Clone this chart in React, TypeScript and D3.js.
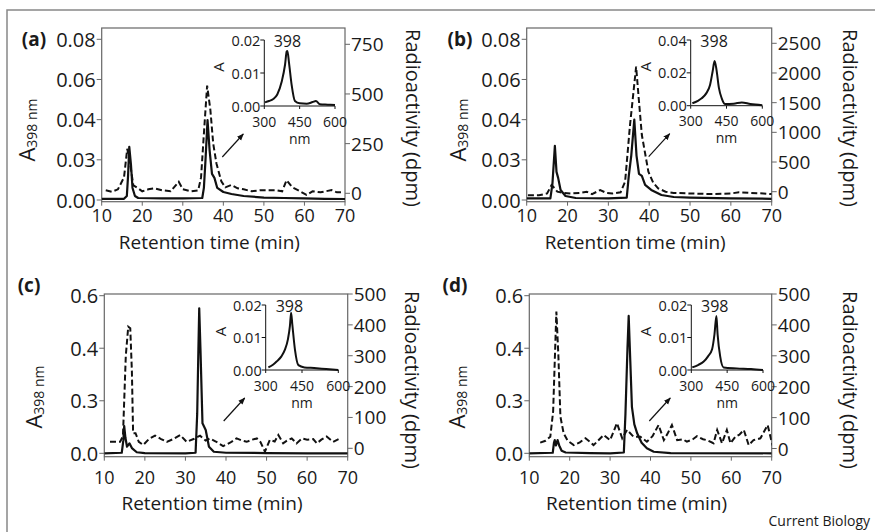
import React from 'react';
import * as d3 from 'd3';

type Pt = [number, number];

// retention time (min) vs A398 (solid) and radioactivity in dpm (dashed)
const aSolid: Pt[] = [
  [10, 0.0006], [15.5, 0.0006], [16.2, 0.002], [16.5, 0.012], [16.8, 0.0265], [17.2, 0.018], [17.6, 0.006],
  [18.2, 0.002], [19, 0.001], [25, 0.0008], [30, 0.0008], [34.8, 0.001], [35.2, 0.006], [35.6, 0.02],
  [36.1, 0.0398], [36.6, 0.025], [37.2, 0.013], [37.8, 0.011], [38.5, 0.006], [40, 0.004], [42, 0.003],
  [45, 0.002], [50, 0.0012], [55, 0.001], [60, 0.0008], [65, 0.0006], [70, 0.0005],
];
const aDashed: Pt[] = [
  [11, 15], [12.5, 8], [14, 20], [15.5, 80], [16.3, 224], [17, 150], [17.8, 40], [19, 25], [20, 10],
  [21.5, 20], [23, 25], [25, 15], [27, 10], [29, 58], [30, 20], [32, 10], [33.8, 15], [34.5, 80],
  [35.2, 300], [36, 542], [36.8, 420], [37.5, 250], [38.3, 150], [39.5, 60], [40.5, 30], [42, 42],
  [43.5, 25], [45, 20], [47, 10], [49, 15], [51, 15], [53, 15], [54.5, 10], [55.6, 66], [57, 30],
  [58.5, 15], [60.5, -8], [62, 10], [64, 5], [66.7, 16], [68, 5], [69.5, 5],
];
const bSolid: Pt[] = [
  [10, 0.0008], [15.8, 0.0008], [16.3, 0.008], [16.9, 0.027], [17.3, 0.014], [17.7, 0.011], [18.3, 0.005],
  [19.5, 0.002], [22, 0.001], [30, 0.0008], [34.5, 0.0012], [35, 0.012], [35.6, 0.022], [36.35, 0.04],
  [36.9, 0.022], [37.5, 0.013], [38.2, 0.012], [39, 0.0075], [40.5, 0.005], [43, 0.0025], [46, 0.0015],
  [50, 0.0012], [60, 0.0008], [70, 0.0006],
];
const bDashed: Pt[] = [
  [10.3, -60], [13, -60], [15, -30], [16.1, 113], [16.8, 60], [17.5, 0], [19, -20], [21, -30], [23, -20],
  [24.7, 0], [26, -40], [28, 28], [29.5, -20], [31, -30], [33, -10], [34.1, 168], [35.3, 1124],
  [36.8, 2106], [37.4, 1600], [38.2, 955], [39.8, 337], [41, 150], [42.2, 57], [44, 0], [46, -20],
  [50, -30], [55, -40], [60, -30], [62, -10], [65, -20], [68, -30], [70, -40],
];
const cSolid: Pt[] = [
  [10, 0], [14.3, 0.002], [14.7, 0.05], [14.9, 0.104], [15.2, 0.06], [15.6, 0.025], [16.2, 0.038],
  [16.8, 0.02], [18, 0.004], [20, 0.001], [30, 0], [32.5, 0.002], [32.9, 0.15], [33.2, 0.4], [33.4, 0.552],
  [33.7, 0.4], [34.2, 0.114], [35, 0.089], [35.8, 0.025], [37, 0.006], [40, 0.002], [50, 0.001], [60, 0], [70, 0],
];
const cDashed: Pt[] = [
  [11.4, 21], [13.9, 21], [14.6, 40], [15.3, 300], [15.9, 394], [16.4, 389], [16.8, 250], [17.1, 49],
  [17.7, 49], [18.5, 21], [19.6, 11], [21, 30], [22.5, 41], [24, 30], [25.4, 21], [27, 30], [28.7, 43],
  [30.3, 21], [32, 30], [33.6, 41], [35, 25], [36, 32], [37.5, 22], [39.3, 7], [41, 18], [42.6, 32],
  [44, 25], [45.1, 21], [46.5, 28], [47.6, 32], [48.5, 20], [49.6, -11], [50.8, 27], [52, 22], [52.9, 43],
  [54.1, 16], [55, 25], [56.2, 32], [57.4, 16], [58.7, 32], [60, 28], [61.5, 30], [62.4, 16], [63.5, 28],
  [64.8, 38], [66.4, 21], [68.1, 32],
];
const dSolid: Pt[] = [
  [10, 0], [15.8, 0.002], [16.1, 0.04], [16.3, 0.05], [16.6, 0.03], [17, 0.05], [17.4, 0.03], [18, 0.01],
  [19, 0.003], [25, 0.001], [30, 0], [33.4, 0.003], [33.8, 0.15], [34.3, 0.4], [34.6, 0.523], [35, 0.35],
  [35.4, 0.177], [36, 0.11], [36.7, 0.076], [37.8, 0.04], [39.1, 0.019], [40.8, 0.006], [45, 0.001], [70, 0],
];
const dDashed: Pt[] = [
  [12.7, 19], [14, 25], [15.2, 38], [15.9, 120], [16.7, 443], [17.2, 300], [17.7, 103], [18.5, 49],
  [19.5, 25], [21, 11], [22.5, 20], [23.9, 33], [25, 22], [25.9, 11], [27, 25], [28.4, 44], [30, 27],
  [31.7, 82], [33, 33], [34.2, 60], [35.8, 38], [37.5, 38], [39.1, 22], [40.5, 40], [42, 76], [43.3, 27],
  [44.3, 50], [45.3, 76], [46.6, 27], [48, 30], [49, 22], [50.5, 30], [51.5, 40], [53, 30], [54, 27],
  [55.6, 17], [56.5, 60], [57.7, 17], [58.9, 60], [59.8, 17], [61, 38], [62, 45], [63.1, 60], [64.3, 11],
  [65.5, 27], [67.2, 33], [69, 76], [70.2, 10],
];

// absorbance spectra (nm vs A) for the insets
const aSpectrum: Pt[] = [
  [303, 0.0011], [320, 0.0015], [338, 0.0021], [355, 0.0035], [374, 0.0074], [388, 0.0125], [395, 0.0165],
  [398, 0.0167], [405, 0.013], [416, 0.0064], [430, 0.0015], [450, 0.0008], [480, 0.0007], [505, 0.0012],
  [519, 0.0015], [536, 0.0005], [570, 0.0004], [600, 0.0003],
];
const bSpectrum: Pt[] = [
  [307, 0.0015], [330, 0.003], [346, 0.0045], [365, 0.0075], [381, 0.0126], [392, 0.021], [400, 0.0272],
  [408, 0.022], [418, 0.011], [430, 0.0045], [444, 0.001], [480, 0.0012], [514, 0.002], [550, 0.001], [600, 0.0003],
];
const cSpectrum: Pt[] = [
  [311, 0.0008], [330, 0.0016], [345, 0.0026], [365, 0.0042], [379, 0.0062], [392, 0.0095], [400, 0.0135],
  [405, 0.0176], [410, 0.014], [421, 0.0062], [435, 0.0015], [460, 0.0008], [500, 0.0006], [550, 0.0003], [600, 0],
];
const dSpectrum: Pt[] = [
  [304, 0.0008], [330, 0.0016], [352, 0.0026], [370, 0.0042], [387, 0.0064], [397, 0.011], [405, 0.0166],
  [410, 0.011], [421, 0.0041], [435, 0.0008], [490, 0.0005], [550, 0.0003], [600, 0],
];

const xTicks = [10, 20, 30, 40, 50, 60, 70];
const leftTicksTop = [0, 0.02, 0.04, 0.06, 0.08];
const leftLabelsTop = ['0.00', '0.03', '0.04', '0.06', '0.08'];
const leftTicksBottom = [0, 0.2, 0.4, 0.6];
const leftLabelsBottom = ['0.0', '0.3', '0.4', '0.6'];
const rightTicksA = [0, 250, 500, 750];
const rightTicksB = [0, 500, 1000, 1500, 2000, 2500];
const rightTicksCD = [0, 100, 200, 300, 400, 500];
const insetXTicks = [300, 450, 600];
const insetYTicks = [0, 0.01, 0.02];
const insetYTicksB = [0, 0.02, 0.04];

const FONT = 'Open Sans';
const INK = '#1a1a1a';
const AXIS = '#666';

const panels = [
  {
    id: 'a', solid: aSolid, dashed: aDashed, spectrum: aSpectrum,
    left: 101.7, right: 345, top: 28, bottom: 201.7,
    leftTicks: leftTicksTop, leftLabels: leftLabelsTop, leftRange: [200, 39.3],
    rightTicks: rightTicksA, rightRange: [193.3, 44.3],
    inset: { left: 264.3, right: 335, base: 106, top: 40 }, insetTicks: insetYTicks,
    letter: [34, 39], aLabel: [26, 130], radLabel: [413, 118], tickY: 215, titleY: 242,
  },
  {
    id: 'b', solid: bSolid, dashed: bDashed, spectrum: bSpectrum,
    left: 526.7, right: 771.7, top: 28, bottom: 201.7,
    leftTicks: leftTicksTop, leftLabels: leftLabelsTop, leftRange: [200, 39.3],
    rightTicks: rightTicksB, rightRange: [191.7, 43.3],
    inset: { left: 690.7, right: 762.3, base: 105.7, top: 40 }, insetTicks: insetYTicksB,
    letter: [460, 39], aLabel: [457, 130], radLabel: [850, 118], tickY: 215, titleY: 242,
  },
  {
    id: 'c', solid: cSolid, dashed: cDashed, spectrum: cSpectrum,
    left: 104.3, right: 347.7, top: 294, bottom: 456.7,
    leftTicks: leftTicksBottom, leftLabels: leftLabelsBottom, leftRange: [453.3, 295.7],
    rightTicks: rightTicksCD, rightRange: [448.3, 294],
    inset: { left: 265.7, right: 338.3, base: 370, top: 305 }, insetTicks: insetYTicks,
    letter: [29, 285], aLabel: [33, 397], radLabel: [412, 380], tickY: 477, titleY: 503,
  },
  {
    id: 'd', solid: dSolid, dashed: dDashed, spectrum: dSpectrum,
    left: 529.3, right: 771.7, top: 294, bottom: 456.7,
    leftTicks: leftTicksBottom, leftLabels: leftLabelsBottom, leftRange: [453.3, 295.7],
    rightTicks: rightTicksCD, rightRange: [448.5, 294],
    inset: { left: 691.3, right: 763, base: 370, top: 305 }, insetTicks: insetYTicks,
    letter: [455, 285], aLabel: [456, 397], radLabel: [850, 380], tickY: 477, titleY: 503,
  },
];

type PanelCfg = (typeof panels)[number];

const Panel = ({ p }: { p: PanelCfg }) => {
  const x = d3.scaleLinear().domain([10, 70]).range([p.left, p.right]);
  const yL = d3.scaleLinear().domain([0, p.leftTicks[p.leftTicks.length - 1]]).range(p.leftRange);
  const yR = d3.scaleLinear().domain([0, p.rightTicks[p.rightTicks.length - 1]]).range(p.rightRange);
  const solidLine = d3.line<Pt>().x((d) => x(d[0])).y((d) => yL(d[1]));
  const dashedLine = d3.line<Pt>().x((d) => x(d[0])).y((d) => yR(d[1]));

  const ins = p.inset;
  const ix = d3.scaleLinear().domain([300, 600]).range([ins.left, ins.right]);
  const iy = d3.scaleLinear().domain([0, p.insetTicks[p.insetTicks.length - 1]]).range([ins.base, ins.top]);
  const specLine = d3.line<Pt>().x((d) => ix(d[0])).y((d) => iy(d[1])).curve(d3.curveMonotoneX);

  const clipId = 'clip-' + p.id;
  const midX = (p.left + p.right) / 2;

  return (
    <g>
      <defs>
        <clipPath id={clipId}>
          <rect x={p.left} y={p.top} width={p.right - p.left} height={p.bottom - p.top} />
        </clipPath>
      </defs>
      {/* frame of the plot */}
      <rect x={p.left} y={p.top} width={p.right - p.left} height={p.bottom - p.top} fill="none" stroke={AXIS} strokeWidth={1.2} />
      {xTicks.map((t) => (
        <g key={'x' + t}>
          <line x1={x(t)} x2={x(t)} y1={p.bottom} y2={p.bottom + 4} stroke={AXIS} />
          <text x={x(t)} y={p.tickY} textAnchor="middle" dominantBaseline="central" fontSize={18} fill={INK}>{t}</text>
        </g>
      ))}
      {p.leftTicks.map((t, i) => (
        <g key={'l' + t}>
          <line x1={p.left - 5} x2={p.left} y1={yL(t)} y2={yL(t)} stroke={AXIS} />
          <text x={p.left - 6} y={yL(t)} textAnchor="end" dominantBaseline="central" fontSize={20} fill={INK}>{p.leftLabels[i]}</text>
        </g>
      ))}
      {p.rightTicks.map((t) => (
        <g key={'r' + t}>
          <line x1={p.right} x2={p.right + 5} y1={yR(t)} y2={yR(t)} stroke={AXIS} />
          <text x={p.right + 6} y={yR(t)} dominantBaseline="central" fontSize={19} fill={INK}>{t}</text>
        </g>
      ))}
      <text x={midX - 14} y={p.titleY} textAnchor="middle" dominantBaseline="central" fontSize={19} fill={INK}>Retention time (min)</text>
      <text transform={`translate(${p.aLabel[0]},${p.aLabel[1]}) rotate(-90)`} textAnchor="middle" dominantBaseline="central" fontSize={22} fill={INK}>
        A<tspan fontSize={14} dy={5}>398 nm</tspan>
      </text>
      <text transform={`translate(${p.radLabel[0]},${p.radLabel[1]}) rotate(90)`} textAnchor="middle" dominantBaseline="central" fontSize={20} fill={INK}>Radioactivity (dpm)</text>
      <text x={p.letter[0]} y={p.letter[1]} textAnchor="middle" dominantBaseline="central" fontSize={19} fontWeight="bold" fill={INK}>({p.id})</text>

      <g clipPath={`url(#${clipId})`}>
        <path d={dashedLine(p.dashed) || ''} fill="none" stroke="#111" strokeWidth={2} strokeDasharray="6,3" />
        <path d={solidLine(p.solid) || ''} fill="none" stroke="#111" strokeWidth={2.2} strokeLinejoin="round" />
      </g>

      {/* inset spectrum */}
      <line x1={ins.left} x2={ins.left} y1={ins.top} y2={ins.base} stroke="#111" />
      <line x1={ins.left} x2={ins.right} y1={ins.base} y2={ins.base} stroke="#111" />
      {p.insetTicks.map((t) => (
        <g key={'iy' + t}>
          <line x1={ins.left - 4} x2={ins.left} y1={iy(t)} y2={iy(t)} stroke="#111" />
          <text x={ins.left - 4} y={iy(t)} textAnchor="end" dominantBaseline="central" fontSize={14.5} fill={INK}>{t.toFixed(2)}</text>
        </g>
      ))}
      {insetXTicks.map((t) => (
        <g key={'ix' + t}>
          <line x1={ix(t)} x2={ix(t)} y1={ins.base} y2={ins.base + 3} stroke="#111" />
          <text x={ix(t)} y={ins.base + 15} textAnchor="middle" dominantBaseline="central" fontSize={14} fill={INK}>{t}</text>
        </g>
      ))}
      <text x={ix(450)} y={ins.base + 32} textAnchor="middle" dominantBaseline="central" fontSize={14} fill={INK}>nm</text>
      <text x={ix(398)} y={ins.top + 1} textAnchor="middle" dominantBaseline="central" fontSize={16} fill={INK}>398</text>
      <text transform={`translate(${ins.left - 46},${(ins.top + ins.base) / 2 - 6}) rotate(-90)`} textAnchor="middle" dominantBaseline="central" fontSize={15} fill={INK}>A</text>
      <path d={specLine(p.spectrum) || ''} fill="none" stroke="#111" strokeWidth={2} />
      <line x1={ins.left - 42} y1={ins.base + 51} x2={ins.left - 21} y2={ins.base + 28} stroke="#111" strokeWidth={1.2} markerEnd="url(#arrowHead)" />
    </g>
  );
};

export default function App() {
  return (
    <svg width={875} height={532} style={{ position: 'absolute', left: 0, top: 0, background: '#fff' }} fontFamily={FONT}>
      <defs>
        <marker id="arrowHead" viewBox="0 0 10 10" refX="9" refY="5" markerWidth="7" markerHeight="7" orient="auto" markerUnits="userSpaceOnUse">
          <path d="M0,1 L10,5 L0,9 Z" fill="#111" />
        </marker>
      </defs>
      <rect x={0} y={0} width={875} height={532} fill="#fff" />
      <rect x={7} y={10} width={900} height={560} fill="none" stroke="#888" strokeWidth={1.5} />
      {panels.map((p) => (
        <Panel key={p.id} p={p} />
      ))}
      <text x={870} y={520} textAnchor="end" dominantBaseline="central" fontSize={14} fill={INK}>Current Biology</text>
    </svg>
  );
}
